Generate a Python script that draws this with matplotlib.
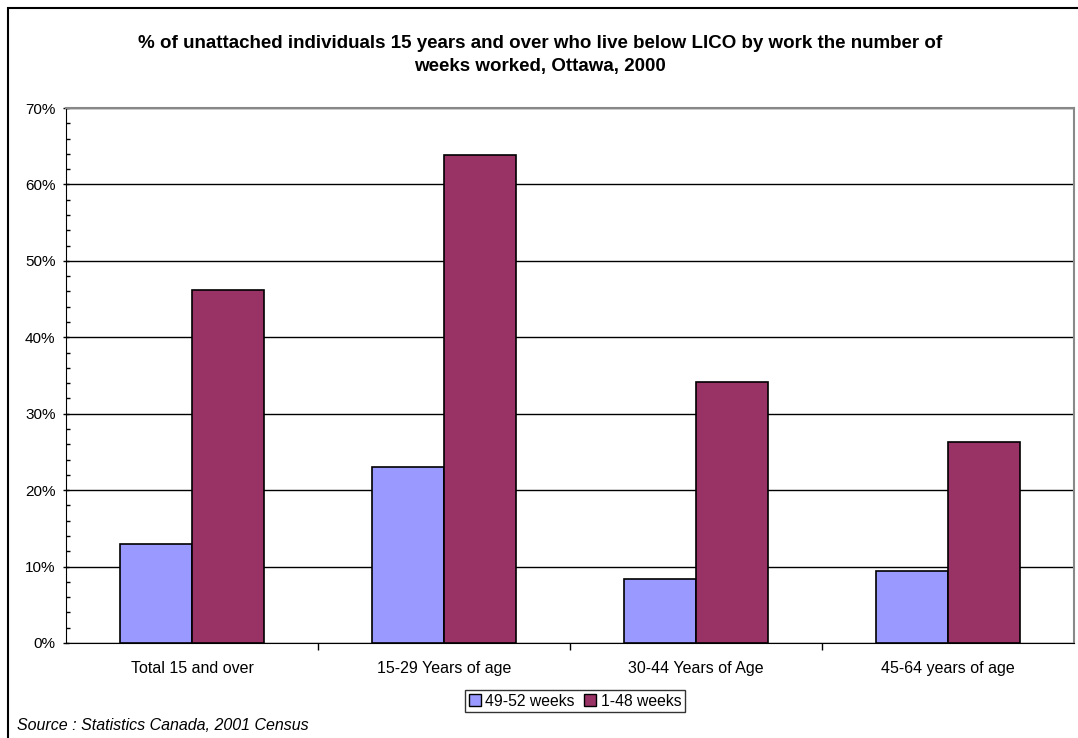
import matplotlib.pyplot as plt
import numpy as np
from matplotlib.patches import Rectangle, Patch

# Data
categories = ["Total 15 and over", "15-29 Years of age", "30-44 Years of Age", "45-64 years of age"]
full_year = [13.0, 23.0, 8.4, 9.4]      # 49-52 weeks
part_year = [46.2, 63.8, 34.2, 26.3]    # 1-48 weeks
series_names = ["49-52 weeks", "1-48 weeks"]
yticks = [0, 10, 20, 30, 40, 50, 60, 70]

plt.rcParams['font.family'] = ['Liberation Sans', 'DejaVu Sans']

fig = plt.figure(figsize=(10.78, 7.38), dpi=100)
ax = fig.add_axes([66 / 1078, 1 - 643 / 738, 1008 / 1078, 535 / 738])

x = np.arange(len(categories))
w = 0.2857
ax.bar(x - w / 2, full_year, width=w, color="#9999ff", edgecolor="black", linewidth=1.2, zorder=3)
ax.bar(x + w / 2, part_year, width=w, color="#993366", edgecolor="black", linewidth=1.2, zorder=3)

ax.set_xlim(-0.5, len(categories) - 0.5)
ax.set_ylim(0, 70)
ax.set_yticks(yticks)
ax.set_yticklabels([f"{t}%" for t in yticks], fontsize=11)
ax.set_yticks(np.arange(0, 71, 2), minor=True)
ax.yaxis.grid(True, color="black", linewidth=1, zorder=0)
ax.set_axisbelow(True)

ax.set_xticks(np.arange(0.5, len(categories) - 0.5, 1))
ax.set_xticklabels([])
ax.set_xticks(x, minor=True)
ax.set_xticklabels(categories, minor=True, fontsize=11.5)
ax.tick_params(axis="x", which="minor", length=0, pad=13)
ax.tick_params(axis="x", which="major", length=5, direction="out", width=1)
ax.tick_params(axis="y", which="major", length=5, direction="inout", width=1, pad=5)
ax.tick_params(axis="y", which="minor", length=3, direction="in", width=1)

ax.spines["top"].set_color("#888888")
ax.spines["right"].set_color("#888888")
ax.spines["top"].set_linewidth(1.5)
ax.spines["right"].set_linewidth(1.5)
ax.spines["left"].set_color("black")
ax.spines["bottom"].set_color("black")

fig.text(540 / 1078, 1 - 55 / 738,
         "% of unattached individuals 15 years and over who live below LICO by work the number of\nweeks worked, Ottawa, 2000",
         ha="center", va="center", fontsize=13.5, fontweight="bold", linespacing=1.45)

handles = [Patch(facecolor="#9999ff", edgecolor="black"), Patch(facecolor="#993366", edgecolor="black")]
leg = fig.legend(handles, series_names, loc="center", bbox_to_anchor=(575 / 1078, 1 - 701 / 738),
                 ncol=2, fontsize=11.3, frameon=True, fancybox=False, handlelength=0.75, handleheight=0.75,
                 handletextpad=0.3, columnspacing=0.6, borderpad=0.25, borderaxespad=0)
leg.get_frame().set_edgecolor("black")
leg.get_frame().set_linewidth(1)

fig.text(17 / 1078, 1 - 726 / 738, "Source : Statistics Canada, 2001 Census",
         ha="left", va="center", fontsize=11.5, fontstyle="italic")

# outer chart border (right and bottom run off the image)
fig.patches.append(Rectangle((8 / 1078, -0.05), 1.2, 1 - 8 / 738 + 0.05, transform=fig.transFigure,
                             fill=False, edgecolor="black", linewidth=1.5))

fig.savefig("out.png", dpi=100)
